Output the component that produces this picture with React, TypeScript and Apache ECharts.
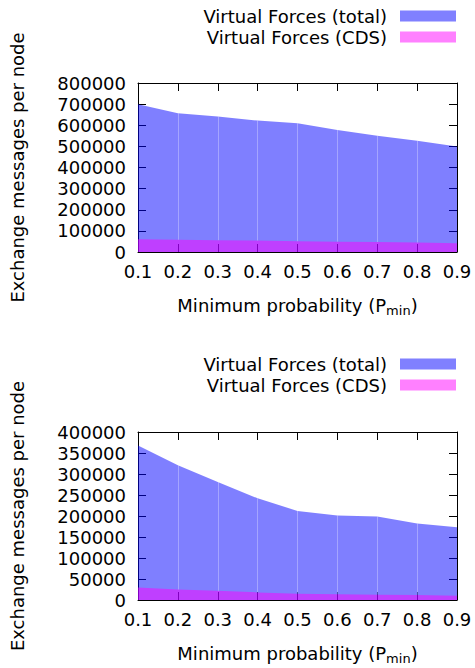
import React, { useEffect, useRef } from "react";
import * as echarts from "echarts";

const categories = ["0.1", "0.2", "0.3", "0.4", "0.5", "0.6", "0.7", "0.8", "0.9"];

const topTotal = [700000, 657000, 641000, 622000, 610000, 578000, 550000, 527000, 499000];
const topCds = [60000, 58000, 56000, 54000, 51000, 49000, 47000, 45000, 42000];

const bottomTotal = [368000, 321000, 281000, 242000, 212000, 201000, 199000, 182000, 173000];
const bottomCds = [30000, 25000, 22000, 18000, 15000, 13500, 12600, 12000, 10000];

const seriesNames = ["Virtual Forces (total)", "Virtual Forces (CDS)"];

const FONT = "DejaVu Sans";
const FS = 18;

function seams(cds: number[], total: number[]) {
  const d: any[] = [];
  for (let i = 1; i < categories.length - 1; i++) {
    d.push([{ coord: [i, cds[i]] }, { coord: [i, total[i]] }]);
  }
  return d;
}

export default function App() {
  const ref = useRef<HTMLDivElement>(null);
  useEffect(() => {
    if (!ref.current) return;
    const chart = echarts.init(ref.current, undefined, { renderer: "svg" });
    const grids = [
      { left: 138, top: 83, width: 319, height: 169 },
      { left: 138, top: 432, width: 319, height: 168 },
    ];
    const axisLine = { show: true, onZero: false, lineStyle: { color: "#000", width: 1 } };
    const tick = { show: true, inside: true, length: 8, lineStyle: { color: "#000", width: 1 } };
    const xName = "Minimum probability (P{sub|min})";
    const xAxes: any[] = [];
    const yAxes: any[] = [];
    const yMax = [800000, 400000];
    const yInt = [100000, 50000];
    [0, 1].forEach((g) => {
      xAxes.push({
        type: "category",
        gridIndex: g,
        data: categories,
        boundaryGap: false,
        position: "bottom",
        axisLine,
        axisTick: tick,
        axisLabel: { color: "#000", fontFamily: FONT, fontSize: FS, margin: 10 },
        splitLine: { show: false },
        name: xName,
        nameLocation: "middle",
        nameGap: 42,
        nameTextStyle: {
          color: "#000",
          fontFamily: FONT,
          fontSize: FS,
          rich: { sub: { fontSize: 13, fontFamily: FONT, color: "#000", padding: [10, 0, 0, 0] } },
        },
      });
      xAxes.push({
        type: "category",
        gridIndex: g,
        data: categories,
        boundaryGap: false,
        position: "top",
        axisLine,
        axisTick: tick,
        axisLabel: { show: false },
        splitLine: { show: false },
      });
      yAxes.push({
        type: "value",
        gridIndex: g,
        min: 0,
        max: yMax[g],
        interval: yInt[g],
        position: "left",
        axisLine,
        axisTick: tick,
        axisLabel: {
          color: "#000",
          fontFamily: FONT,
          fontSize: FS,
          margin: 12,
          formatter: (v: number) => String(v),
        },
        splitLine: { show: false },
        name: "Exchange messages per node",
        nameLocation: "middle",
        nameRotate: 90,
        nameGap: 112,
        nameTextStyle: { color: "#000", fontFamily: FONT, fontSize: FS },
      });
      yAxes.push({
        type: "value",
        gridIndex: g,
        min: 0,
        max: yMax[g],
        interval: yInt[g],
        position: "right",
        axisLine,
        axisTick: tick,
        axisLabel: { show: false },
        splitLine: { show: false },
      });
    });
    const mk = (g: number, name: string, data: number[], rgba: string, solid: string, markData?: any[]) => ({
      type: "line",
      name,
      xAxisIndex: g * 2,
      yAxisIndex: g * 2,
      data,
      showSymbol: false,
      symbol: "none",
      lineStyle: { width: 0, color: solid },
      itemStyle: { color: solid },
      areaStyle: { color: rgba, opacity: 1 },
      markLine: markData
        ? {
            silent: true,
            symbol: "none",
            label: { show: false },
            lineStyle: { color: "rgba(255,255,255,0.3)", width: 1, type: "solid" },
            data: markData,
          }
        : undefined,
    });
    const legendBase = {
      orient: "vertical",
      right: 19,
      padding: 0,
      align: "right",
      itemWidth: 56,
      itemHeight: 11,
      itemGap: 1,
      icon: "rect",
      data: seriesNames,
      textStyle: { color: "#000", fontFamily: FONT, fontSize: FS, lineHeight: 20, padding: [0, 8, 0, 0] },
    };
    chart.setOption({
      animation: false,
      backgroundColor: "#fff",
      grid: grids,
      xAxis: xAxes,
      yAxis: yAxes,
      legend: [
        { ...legendBase, top: 6 },
        { ...legendBase, top: 354 },
      ],
      series: [
        mk(0, seriesNames[0], topTotal, "rgba(0,0,255,0.5)", "#8080ff", seams(topCds, topTotal)),
        mk(0, seriesNames[1], topCds, "rgba(255,0,255,0.5)", "#ff80ff"),
        mk(1, seriesNames[0], bottomTotal, "rgba(0,0,255,0.5)", "#8080ff", seams(bottomCds, bottomTotal)),
        mk(1, seriesNames[1], bottomCds, "rgba(255,0,255,0.5)", "#ff80ff"),
      ],
    });
    return () => chart.dispose();
  }, []);
  return (
    <div
      ref={ref}
      style={{ position: "fixed", left: 0, top: 0, width: 475, height: 668, background: "#fff" }}
    />
  );
}
